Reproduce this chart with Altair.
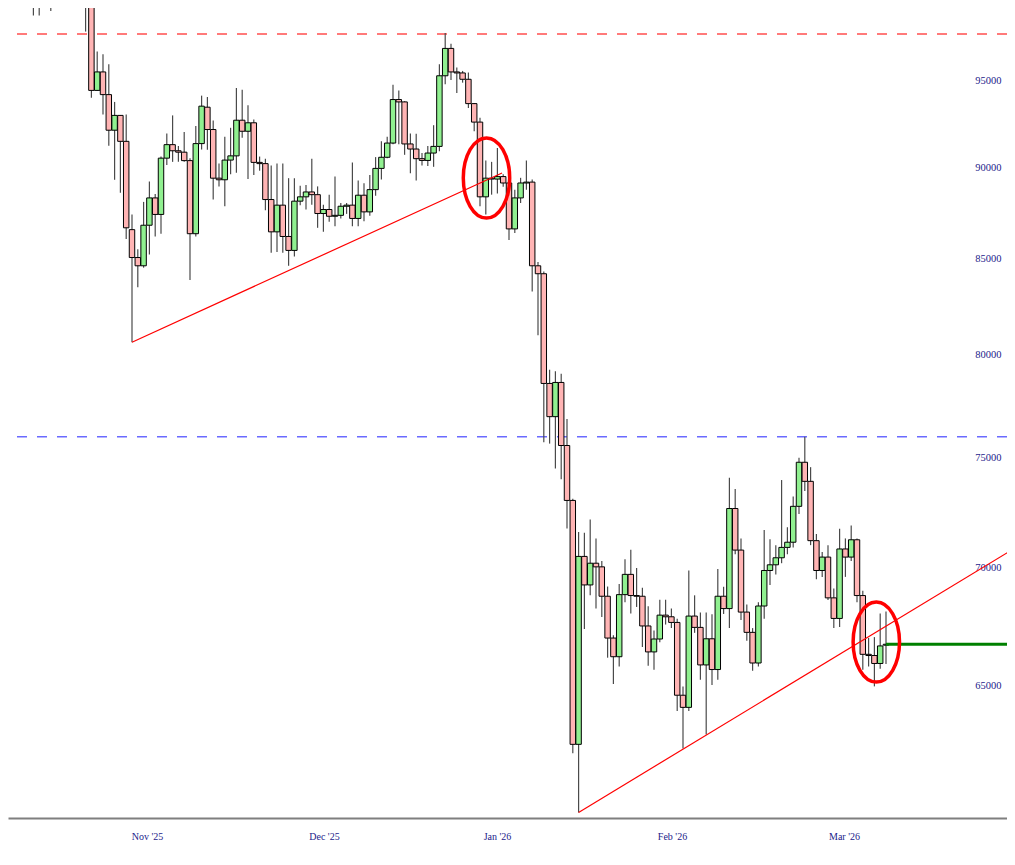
import json
import altair as alt
import pandas as pd

# ---- daily candles (index 0 = the November swing low) ----
day = list(range(-21, 131))
open_ = [
    108300, 109600, 110100, 110600, 106500, 101500, 103900, 101300, 103400, 102300,
    104700, 105900, 103000, 101600, 99700, 94440, 95540, 94190, 92110, 92970,
    91470, 86540, 85040, 84600, 86780, 88280, 87370, 90510, 91280, 90930,
    90850, 90370, 86320, 91340, 93450, 92150, 89380, 89290, 90400, 90640,
    92690, 92050, 92540, 90270, 90200, 88190, 86420, 87880, 86170, 85420,
    88100, 88340, 88610, 88460, 87420, 87640, 87270, 87320, 87820, 87880,
    87150, 88430, 87510, 88740, 89930, 90560, 91370, 93900, 93760, 91320,
    91030, 90480, 90380, 90800, 91180, 95310, 96960, 95540, 95480, 95100,
    93660, 92580, 88340, 89380, 89330, 89470, 89110, 86580, 88280, 89110,
    89160, 84600, 84180, 78580, 76960, 78630, 75580, 73020, 62660, 70500,
    69250, 70200, 70040, 68760, 66980, 66200, 68830, 69710, 68790, 68760,
    67490, 66400, 66940, 67950, 67880, 67640, 64620, 64130, 67910, 67430,
    65860, 66950, 65670, 68760, 68230, 72650, 70780, 68080, 67220, 65940,
    68340, 69880, 70130, 70440, 70900, 71130, 72750, 74790, 73900, 71200,
    69880, 70470, 68690, 67810, 70830, 70470, 71240, 68790, 66300, 66250,
    65920, 66680,
]
high = [
    111000, 110600, 111200, 110800, 107200, 104500, 104100, 104000, 103500, 104800,
    106600, 107000, 105300, 104000, 99800, 96770, 96600, 96000, 93760, 93000,
    93020, 87370, 85480, 88060, 89190, 88500, 90600, 91920, 92970, 91200,
    92000, 90500, 92350, 94130, 94050, 92680, 90200, 91730, 92250, 94580,
    94480, 93570, 92730, 90600, 90480, 90100, 90200, 90200, 89380, 89380,
    88960, 89000, 90480, 88920, 87900, 88460, 89470, 88000, 88000, 90270,
    89250, 89100, 89560, 90570, 91470, 91730, 94770, 94440, 93800, 91920,
    91900, 90800, 91200, 92400, 96000, 97900, 97240, 95800, 95600, 95500,
    93700, 92830, 90380, 90300, 91090, 89600, 89200, 88740, 89400, 90380,
    89300, 84800, 84300, 79260, 79190, 79060, 76850, 73100, 71590, 71550,
    72150, 71300, 70300, 69180, 67100, 69290, 70380, 70800, 69990, 69130,
    68330, 67300, 68610, 68610, 68230, 67800, 64970, 69880, 68800, 68060,
    68060, 67990, 69950, 69170, 74070, 73540, 71300, 68410, 67400, 68500,
    71680, 71260, 71000, 73960, 71800, 73200, 75000, 76000, 74560, 71500,
    70700, 70990, 69100, 71730, 71300, 71880, 71300, 69000, 66980, 67020,
    68020, 68100,
]
low = [
    106500, 109400, 109800, 105300, 98980, 98980, 100300, 99270, 101500, 101500,
    104300, 102500, 100900, 97990, 94000, 94400, 93020, 91220, 89290, 88570,
    86040, 80640, 83470, 84500, 85200, 86170, 86320, 90120, 90300, 90300,
    90300, 83850, 86170, 91000, 90990, 88190, 88920, 87820, 89600, 89690,
    91670, 89330, 89560, 89800, 87600, 85300, 85340, 85300, 84600, 85100,
    87880, 87640, 87900, 86640, 86420, 86970, 86720, 87150, 87400, 86720,
    86720, 87000, 87300, 88400, 89300, 90500, 91300, 91300, 90700, 89650,
    89250, 90100, 90070, 90020, 90900, 94800, 95060, 94290, 94900, 93400,
    92050, 87820, 87370, 88460, 88520, 88900, 85980, 86360, 88000, 88740,
    83240, 80990, 75740, 75670, 74500, 74000, 71750, 62310, 60040, 67360,
    68800, 68230, 67870, 66160, 65080, 65800, 68500, 68020, 68300, 66600,
    65830, 65660, 66800, 67550, 67400, 63980, 62500, 63980, 67200, 65250,
    63050, 65040, 65250, 68000, 67400, 70600, 67740, 66870, 65620, 65800,
    67800, 69250, 69700, 70200, 70600, 70900, 72400, 73450, 71000, 69500,
    69600, 68600, 67400, 67450, 69600, 70300, 68500, 65660, 65800, 64980,
    65700, 65900,
]
close = [
    109600, 110100, 110600, 106500, 101500, 103900, 101300, 103400, 102300, 104700,
    105900, 103000, 101600, 99700, 94440, 95540, 94190, 92110, 92970, 91470,
    86640, 85040, 84600, 86780, 88280, 87370, 90510, 91280, 90930, 90850,
    90370, 86320, 91340, 93510, 92150, 89380, 89290, 90400, 90640, 92690,
    92050, 92540, 90270, 90200, 88190, 86420, 87880, 86170, 85420, 88100,
    88340, 88610, 88460, 87420, 87640, 87270, 87320, 87820, 87880, 87150,
    88430, 87510, 88740, 89930, 90560, 91370, 93900, 93760, 91320, 91030,
    90480, 90380, 90800, 91180, 95310, 96960, 95540, 95480, 95100, 93660,
    92580, 88340, 89380, 89330, 89470, 89110, 86580, 88280, 89110, 89160,
    84600, 84180, 78580, 76960, 78630, 75580, 73020, 62660, 70500, 69250,
    70200, 70040, 68760, 66980, 66200, 68830, 69710, 68790, 68760, 67490,
    66400, 66940, 67950, 67880, 67640, 64620, 64130, 67910, 67430, 65860,
    66950, 65670, 68760, 68230, 72650, 70780, 68080, 67220, 65940, 68340,
    69880, 70130, 70440, 70900, 71130, 72750, 74790, 73900, 71200, 69880,
    70470, 68690, 67810, 70830, 70470, 71240, 68790, 66300, 66250, 65920,
    66650, 66720,
]

month_labels = ["Nov '25", "Dec '25", "Jan '26", "Feb '26", "Mar '26"]
month_pos = [2.59, 33.1, 62.93, 93.1, 122.76]
price_ticks = [65000, 70000, 75000, 80000, 85000, 90000, 95000, 100000]

level_prices = [97840, 76000]
level_names = ["red", "blue"]

trend_day = [0, 63.8, 77, 151.4]
trend_price = [80640, 89670, 60040, 70740]
trend_id = ["a", "a", "b", "b"]

green_day = [130, 151.4]
green_price = [66720, 66720]

circle_day = [61.12, 128.33]
circle_price = [89390, 66810]

# ---- layout ----
W, H = 999, 810
XDOM = [-21.379, 150.862]
YDOM = [59830, 99450]
FONT = "Liberation Serif"
LBL = "#22228a"

df = pd.DataFrame({"day": day, "open": open_, "high": high, "low": low, "close": close})
df["dir"] = ["up" if c >= o else "down" for o, c in zip(open_, close)]

xs = alt.Scale(domain=XDOM, nice=False, zero=False)
ys = alt.Scale(type="log", domain=YDOM, nice=False, zero=False)

label_expr = f"{json.dumps(month_labels)}[indexof({json.dumps(month_pos)}, datum.value)]"
xaxis = alt.Axis(values=month_pos, labelExpr=label_expr, title=None, grid=False, ticks=False,
                 domainColor="#7f7f7f", domainWidth=2, labelFont=FONT, labelFontSize=10,
                 labelColor=LBL, labelPadding=13, labelOverlap=False, labelFlush=False)
yaxis = alt.Axis(values=price_ticks, orient="right", title=None, grid=False, ticks=False,
                 domain=False, labelAlign="right", labelBaseline="middle", labelPadding=-6,
                 labelFont=FONT, labelFontSize=10.5, labelColor=LBL, format="d",
                 labelOverlap=False, labelFlush=False)

base = alt.Chart(df)

wicks = base.mark_rule(color="#4a4a4a", strokeWidth=1.2, clip=True).encode(
    x=alt.X("day:Q", scale=xs, axis=xaxis),
    y=alt.Y("low:Q", scale=ys, axis=yaxis),
    y2="high:Q",
)

bodies = base.transform_calculate(
    x0="datum.day - 0.47", x1="datum.day + 0.47"
).mark_bar(stroke="black", strokeWidth=1, clip=True).encode(
    x=alt.X("x0:Q", scale=xs),
    x2="x1:Q",
    y=alt.Y("open:Q", scale=ys),
    y2="close:Q",
    color=alt.Color("dir:N", scale=alt.Scale(domain=["up", "down"], range=["#90f090", "#ffb4b4"]), legend=None),
)

levels_df = pd.DataFrame({"price": level_prices, "name": level_names})
red_level = alt.Chart(levels_df[levels_df.name == "red"]).mark_rule(
    color="#ff7a7a", strokeWidth=2, strokeDash=[10, 10]).encode(y=alt.Y("price:Q", scale=ys))
blue_level = alt.Chart(levels_df[levels_df.name == "blue"]).mark_rule(
    color="#6a6aff", strokeWidth=1.5, strokeDash=[10, 10]).encode(y=alt.Y("price:Q", scale=ys))

trend_df = pd.DataFrame({"day": trend_day, "price": trend_price, "id": trend_id})
trends = alt.Chart(trend_df).mark_line(color="#ff0000", strokeWidth=1.2, clip=True).encode(
    x=alt.X("day:Q", scale=xs), y=alt.Y("price:Q", scale=ys), detail="id:N")

green_df = pd.DataFrame({"day": green_day, "price": green_price})
green_line = alt.Chart(green_df).mark_line(color="#008000", strokeWidth=3, clip=True).encode(
    x=alt.X("day:Q", scale=xs), y=alt.Y("price:Q", scale=ys))

ellipse = ("M 0.58 0 C 0.58 0.5523 0.3203 1 0 1 C -0.3203 1 -0.58 0.5523 -0.58 0 "
           "C -0.58 -0.5523 -0.3203 -1 0 -1 C 0.3203 -1 0.58 -0.5523 0.58 0 Z")
circ_df = pd.DataFrame({"day": circle_day, "price": circle_price})
circles = alt.Chart(circ_df).mark_point(shape=ellipse, size=6400, filled=False, color="#ff0000",
                                        strokeWidth=3.5, opacity=1).encode(
    x=alt.X("day:Q", scale=xs), y=alt.Y("price:Q", scale=ys))

chart = alt.layer(red_level, blue_level, wicks, bodies, trends, green_line, circles).properties(
    width=W, height=H,
    autosize=alt.AutoSizeParams(type="none"),
    padding={"left": 0, "top": 0, "right": 0, "bottom": 35},
    background="white",
).configure_view(stroke=None)

chart.save("out.html", embed_options={"renderer": "svg", "actions": False})
